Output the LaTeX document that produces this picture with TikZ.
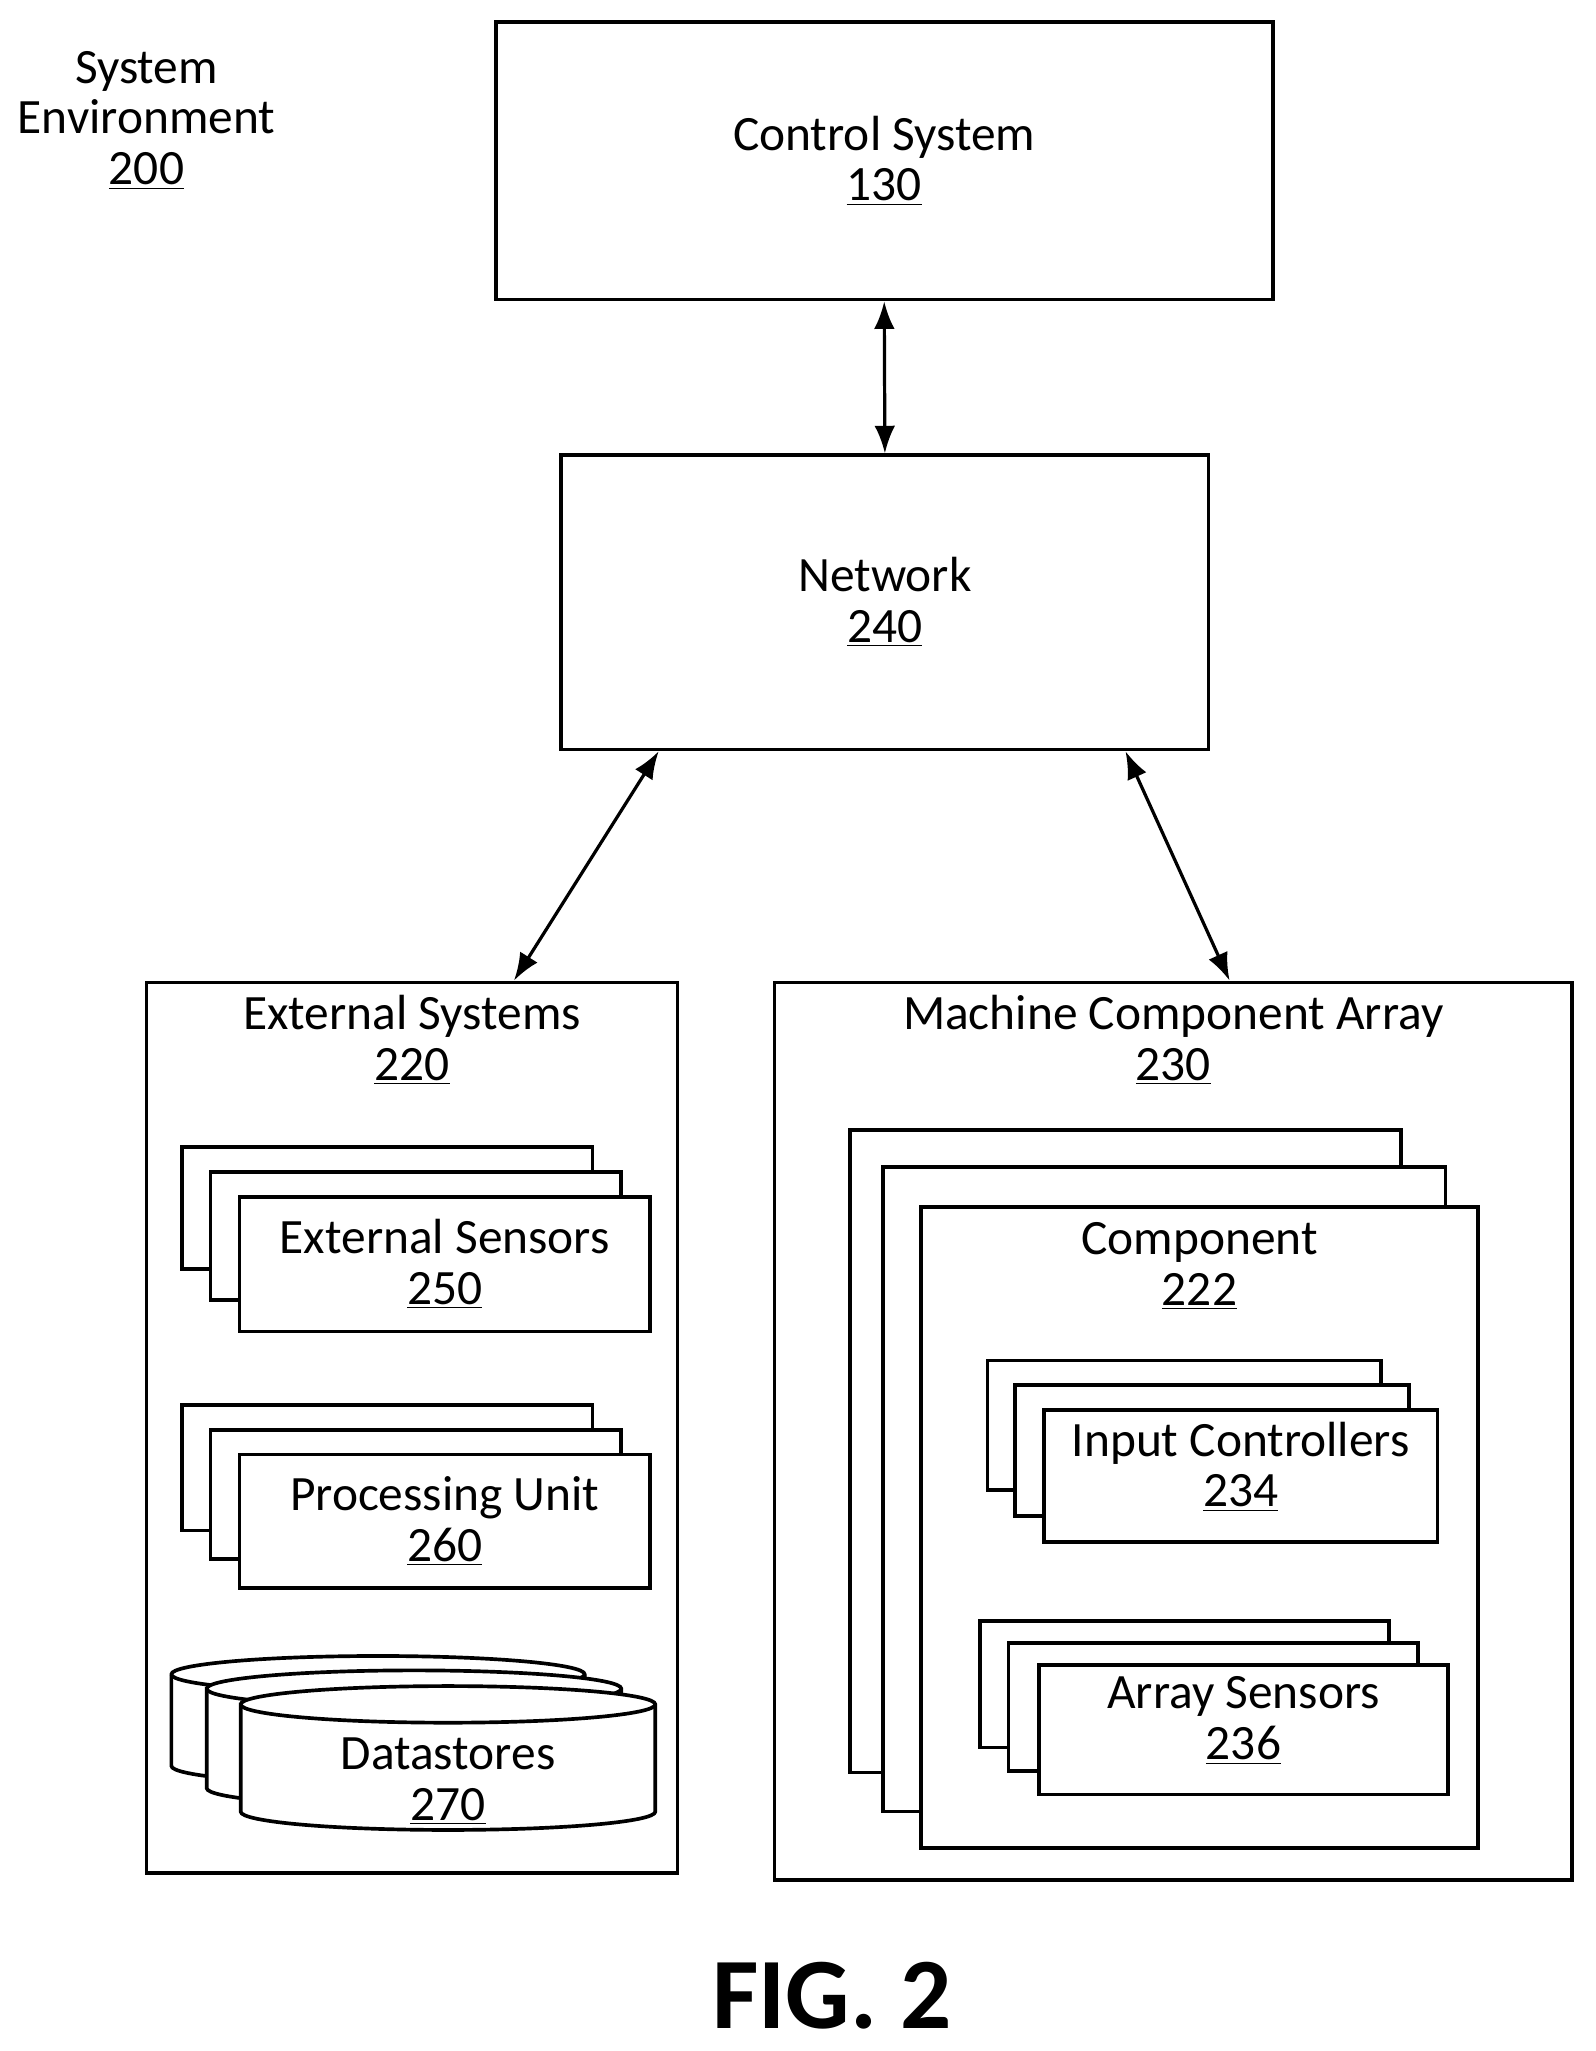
\documentclass[tikz,border=0pt]{standalone}
\usepackage{fontspec}
\setmainfont{Carlito}
\usetikzlibrary{fit,arrows.meta}

\tikzset{
  box/.style = {draw, line width=1.6pt, fill=white, inner sep=0pt},
  txt/.style = {align=center, font=\fontsize{21.5}{22}\selectfont},
  link/.style = {line width=1.4pt, {Latex[length=12pt,width=9pt]}-{Latex[length=12pt,width=9pt]}}
}

\newcommand{\stackbox}[6]{% name, x1, y1, x2, y2, text
  \node[box, fit={(#2,#3) (#4,#5)}] (#1) {};
  \node[txt] (#1t) at (#1.center) {#6};
}
\newcommand{\drum}[5]{% name, x1, y1, x2, y2
  \pgfmathsetmacro{\rx}{(#4-#2)/2}
  \draw[line width=1.6pt, fill=white] (#2,#3+14) -- (#2,#5-14)
    arc[start angle=180, end angle=0, x radius=\rx, y radius=14]
    -- (#4,#3+14) arc[start angle=0, end angle=-180, x radius=\rx, y radius=14] -- cycle;
  \draw[line width=1.6pt] (#2,#3+14) arc[start angle=180, end angle=0, x radius=\rx, y radius=14];
  \coordinate (#1) at ({(#2+#4)/2},{(#3+#5)/2+18});
}

\begin{document}
\begin{tikzpicture}[x=0.02cm, y=-0.02cm]
  \useasboundingbox (0,0) rectangle (1220,1568);

  \node[txt] (env) at (112,92) {System\\Environment\\\underline{200}};

  \stackbox{ctrl}{379}{17}{973}{229}{Control System\\\underline{130}}
  \stackbox{net}{429}{348}{924}{573}{Network\\\underline{240}}

  % external systems
  \node[box, fit={(112,751) (518,1432)}] (ext) {};
  \node[txt, anchor=north] (extt) at ([yshift=-3pt]ext.north) {External Systems\\\underline{220}};
  \foreach \i/\d in {1/0, 2/22, 3/44}
  {
    \node[box, fit={(139+\d,877+19*\i-19) (453+\d,970+24*\i-24)}] (sens\i) {};
    \node[box, fit={(139+\d,1074+19*\i-19) (453+\d,1170+22*\i-22)}] (proc\i) {};
  }
  \node[txt] (senst) at (sens3.center) {External Sensors\\\underline{250}};
  \node[txt] (proct) at (proc3.center) {Processing Unit\\\underline{260}};
  \drum{db1}{131}{1266}{447}{1364}
  \drum{db2}{158}{1277}{475}{1381}
  \drum{db3}{184}{1289}{501}{1399}
  \node[txt] (dbt) at (db3) {Datastores\\\underline{270}};

  % machine component array
  \node[box, fit={(592,751) (1202,1437)}] (mca) {};
  \node[txt, anchor=north] (mcat) at ([yshift=-3pt]mca.north) {Machine Component Array\\\underline{230}};
  \node[box, fit={(650,864) (1071,1355)}] (comp1) {};
  \node[box, fit={(675,892) (1105,1385)}] (comp2) {};
  \node[box, fit={(704,923) (1130,1413)}] (comp3) {};
  \node[txt, anchor=north] (compt) at ([yshift=-4pt]comp3.north) {Component\\\underline{222}};
  \foreach \i/\d in {1/0, 2/21, 3/43}
  {
    \node[box, fit={(755+\d,1040+19*\i-19) (1056+\d,1139+20*\i-20)}] (inp\i) {};
    \node[box, fit={(749+\d*1.05,1239+17*\i-17) (1062+\d*1.05,1336+18*\i-18)}] (arr\i) {};
  }
  \node[txt] (inpt) at ([yshift=4pt]inp3.center) {Input Controllers\\\underline{234}};
  \node[txt] (arrt) at ([yshift=4pt]arr3.center) {Array Sensors\\\underline{236}};

  % links
  \draw[link] (ctrl.south) -- (net.north);
  \draw[link] ([xshift=-3.46cm]net.south) -- ([xshift=1.56cm]ext.north);
  \draw[link] ([xshift=3.68cm]net.south) -- ([xshift=0.86cm]mca.north);

  \node[font=\fontsize{44}{50}\selectfont\bfseries] (fig) at (636,1526) {FIG. 2};
\end{tikzpicture}
\end{document}
